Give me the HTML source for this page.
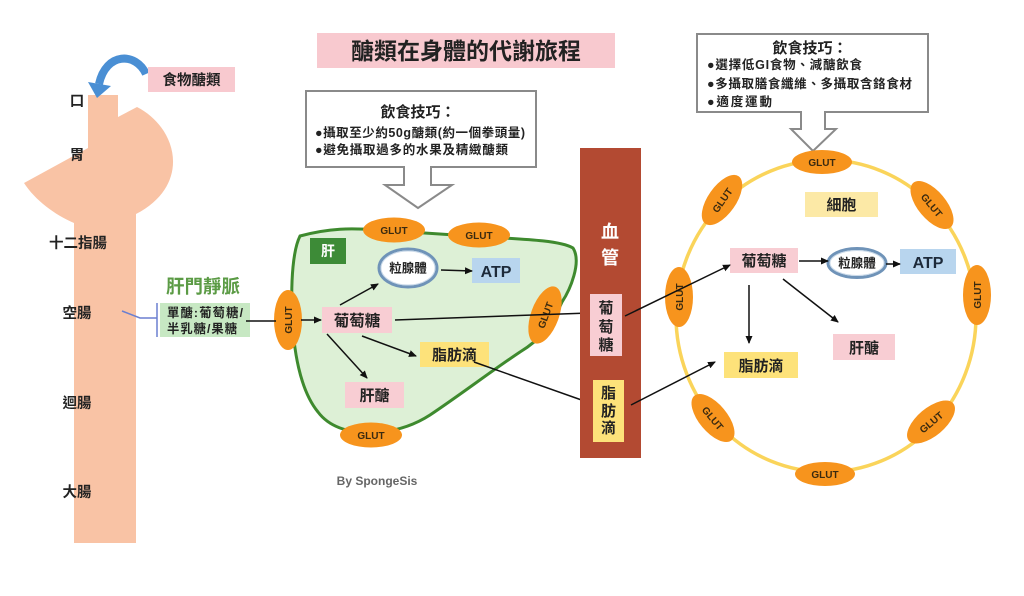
<!DOCTYPE html>
<html><head><meta charset="utf-8">
<style>
html,body{margin:0;padding:0;background:#fff;}
svg{display:block;}
text{font-family:"Liberation Sans","Noto Sans CJK TC",sans-serif;font-weight:bold;}
</style></head>
<body>
<svg width="1024" height="596" viewBox="0 0 1024 596" xmlns="http://www.w3.org/2000/svg">
<defs>
<marker id="ah" markerWidth="8" markerHeight="8" refX="7" refY="4" orient="auto" markerUnits="userSpaceOnUse">
<path d="M0,0.5 L8,4 L0,7.5 Z" fill="#111"/>
</marker>
</defs>
<rect width="1024" height="596" fill="#fff"/>

<!-- GI tract -->
<path d="M88,95 L118,95 L118,117 L137,107 C178,128 192,185 136,214 L136,543 L74,543 L74,223 C55,215 35,200 24,183 L88,148 Z" fill="#f9c3a5"/>
<!-- blue curved arrow -->
<path d="M146,74 C136,52 106,52 99,84" fill="none" stroke="#4a8fd4" stroke-width="8"/>
<path d="M88,82 L111,86 L97,98 Z" fill="#4a8fd4"/>
<rect x="148" y="67" width="87" height="25" fill="#f8c9cf"/>
<text x="191.5" y="85" font-size="14.5" text-anchor="middle" fill="#222">食物醣類</text>

<g font-size="14.5" fill="#222" text-anchor="middle">
<text x="77" y="106">口</text>
<text x="77" y="160">胃</text>
<text x="78" y="248">十二指腸</text>
<text x="77" y="318">空腸</text>
<text x="77" y="408">迴腸</text>
<text x="77" y="497">大腸</text>
</g>

<!-- portal vein -->
<text x="203" y="293" font-size="18.5" text-anchor="middle" fill="#5b9b45">肝門靜脈</text>
<rect x="160" y="303" width="90" height="34" fill="#c7e8c3"/>
<text x="167" y="317" font-size="12.3" fill="#222" textLength="76">單醣:葡萄糖/</text>
<text x="167" y="333" font-size="12.3" fill="#222" textLength="70">半乳糖/果糖</text>
<path d="M122,311 L140,318 L157,318" fill="none" stroke="#6b7fd0" stroke-width="1.5"/>
<line x1="157" y1="303" x2="157" y2="337" stroke="#6b7fd0" stroke-width="1.5"/>

<!-- title -->
<rect x="317" y="33" width="298" height="35" fill="#f8c9cf"/>
<text x="466" y="59" font-size="23" text-anchor="middle" fill="#222">醣類在身體的代謝旅程</text>

<!-- tip box 1 -->
<rect x="306" y="91" width="230" height="76" fill="#fff" stroke="#8a8a8a" stroke-width="2"/>
<path d="M404,166 L404,185 L385,185 L418,208 L452,185 L431,185 L431,166" fill="#fff" stroke="#8a8a8a" stroke-width="2"/>
<text x="418" y="117" font-size="15" text-anchor="middle" fill="#222">飲食技巧：</text>
<text x="315" y="137" font-size="12.5" fill="#222" font-weight="normal" textLength="210">●攝取至少約50g醣類(約一個拳頭量)</text>
<text x="315" y="154" font-size="12.5" fill="#222" font-weight="normal" textLength="193">●避免攝取過多的水果及精緻醣類</text>

<!-- tip box 2 -->
<rect x="697" y="34" width="231" height="78" fill="#fff" stroke="#8a8a8a" stroke-width="2"/>
<path d="M801,111 L801,129 L791,129 L813,151 L836,129 L825,129 L825,111" fill="#fff" stroke="#8a8a8a" stroke-width="2"/>
<text x="810" y="53" font-size="15" text-anchor="middle" fill="#222">飲食技巧：</text>
<text x="707" y="69" font-size="12.5" fill="#222" font-weight="normal" textLength="155">●選擇低GI食物、減醣飲食</text>
<text x="707" y="88" font-size="12.5" fill="#222" font-weight="normal" textLength="205">●多攝取膳食纖維、多攝取含鉻食材</text>
<text x="707" y="106" font-size="12.5" fill="#222" font-weight="normal" textLength="65">●適度運動</text>

<!-- liver -->
<path d="M300,236 C330,228 350,228 380,230 L470,236 C520,239 560,240 573,248 C582,262 570,290 562,302 C552,325 540,340 520,352 C490,372 460,395 430,415 C410,428 390,432 372,433 C350,433 330,428 318,412 C300,390 293,350 292,310 C291,280 293,250 300,236 Z" fill="#ddf0d6" stroke="#3e8a2e" stroke-width="3"/>
<rect x="310" y="238" width="36" height="26" fill="#3d8b37"/>
<text x="328" y="256" font-size="14" text-anchor="middle" fill="#fff">肝</text>

<g fill="#f7941d">
<ellipse cx="394" cy="230" rx="31" ry="12.5"/>
<ellipse cx="479" cy="235" rx="31" ry="12.5"/>
<ellipse cx="288" cy="320" rx="14" ry="30"/>
<ellipse cx="545" cy="315" rx="30" ry="14" transform="rotate(-70 545 315)"/>
<ellipse cx="371" cy="435" rx="31" ry="12.5"/>
</g>
<g font-size="10" fill="#3a2a10" text-anchor="middle">
<text x="394" y="234">GLUT</text>
<text x="479" y="239">GLUT</text>
<text x="288" y="324" transform="rotate(-90 288 320)">GLUT</text>
<text x="545" y="319" transform="rotate(-70 545 315)">GLUT</text>
<text x="371" y="439">GLUT</text>
</g>

<ellipse cx="408" cy="268" rx="29" ry="19" fill="#fff" stroke="#6f93b8" stroke-width="3"/>
<ellipse cx="408" cy="268" rx="27" ry="17" fill="#fff" stroke="#c8d8e8" stroke-width="1"/>
<text x="408" y="272.5" font-size="12.5" text-anchor="middle" fill="#222">粒腺體</text>
<rect x="472" y="258" width="48" height="25" fill="#b8d5ee"/>
<text x="496" y="277" font-size="16" text-anchor="middle" fill="#1d2a3a">ATP</text>
<rect x="322" y="307" width="70" height="26" fill="#f8cdd3"/>
<text x="357" y="326" font-size="15.5" text-anchor="middle" fill="#222">葡萄糖</text>
<rect x="420" y="342" width="69" height="25" fill="#fde27a"/>
<text x="454.5" y="360" font-size="15" text-anchor="middle" fill="#222">脂肪滴</text>
<rect x="345" y="382" width="59" height="26" fill="#f8cdd3"/>
<text x="374.5" y="400.5" font-size="15" text-anchor="middle" fill="#222">肝醣</text>

<g stroke="#111" stroke-width="1.5" fill="none">
<line x1="246" y1="321" x2="276" y2="321"/>
<line x1="301" y1="320" x2="321" y2="320" marker-end="url(#ah)"/>
<line x1="340" y1="305" x2="378" y2="284" marker-end="url(#ah)"/>
<line x1="441" y1="270" x2="472" y2="271" marker-end="url(#ah)"/>
<line x1="395" y1="320" x2="589" y2="313" marker-end="url(#ah)"/>
<line x1="362" y1="336" x2="416" y2="356" marker-end="url(#ah)"/>
<line x1="327" y1="334" x2="367" y2="378" marker-end="url(#ah)"/>
<line x1="474" y1="362" x2="590" y2="403" marker-end="url(#ah)"/>
</g>

<text x="377" y="485" font-size="12" text-anchor="middle" fill="#666">By SpongeSis</text>

<!-- blood vessel -->
<rect x="580" y="148" width="61" height="310" fill="#b34a32"/>
<text x="610" y="238" font-size="18" text-anchor="middle" fill="#fff">血</text>
<text x="610" y="264" font-size="18" text-anchor="middle" fill="#fff">管</text>
<rect x="590" y="294" width="32" height="62" fill="#f8cdd3"/>
<g font-size="15" text-anchor="middle" fill="#222">
<text x="606" y="313">葡</text>
<text x="606" y="332">萄</text>
<text x="606" y="350">糖</text>
</g>
<rect x="593" y="380" width="31" height="62" fill="#fde27a"/>
<g font-size="15" text-anchor="middle" fill="#222">
<text x="608.5" y="398">脂</text>
<text x="608.5" y="416">肪</text>
<text x="608.5" y="433">滴</text>
</g>

<!-- cell -->
<ellipse cx="826" cy="316" rx="150" ry="156" fill="none" stroke="#fad45a" stroke-width="3.5"/>
<g fill="#f7941d">
<ellipse cx="822" cy="162" rx="30" ry="12"/>
<ellipse cx="722" cy="200" rx="29" ry="14" transform="rotate(-55 722 200)"/>
<ellipse cx="932" cy="205" rx="29" ry="14" transform="rotate(50 932 205)"/>
<ellipse cx="679" cy="297" rx="14" ry="30"/>
<ellipse cx="977" cy="295" rx="14" ry="30"/>
<ellipse cx="713" cy="418" rx="29" ry="14" transform="rotate(50 713 418)"/>
<ellipse cx="931" cy="422" rx="29" ry="14" transform="rotate(-40 931 422)"/>
<ellipse cx="825" cy="474" rx="30" ry="12"/>
</g>
<g font-size="10" fill="#3a2a10" text-anchor="middle">
<text x="822" y="166">GLUT</text>
<text x="722" y="204" transform="rotate(-55 722 200)">GLUT</text>
<text x="932" y="209" transform="rotate(50 932 205)">GLUT</text>
<text x="679" y="301" transform="rotate(-90 679 297)">GLUT</text>
<text x="977" y="299" transform="rotate(-90 977 295)">GLUT</text>
<text x="713" y="422" transform="rotate(50 713 418)">GLUT</text>
<text x="931" y="426" transform="rotate(-40 931 422)">GLUT</text>
<text x="825" y="478">GLUT</text>
</g>

<rect x="805" y="192" width="73" height="25" fill="#fce9a6"/>
<text x="841.5" y="210" font-size="15" text-anchor="middle" fill="#222">細胞</text>
<rect x="730" y="248" width="68" height="25" fill="#f8cdd3"/>
<text x="764" y="266" font-size="15" text-anchor="middle" fill="#222">葡萄糖</text>
<ellipse cx="857" cy="263" rx="29" ry="14.5" fill="#fff" stroke="#6f93b8" stroke-width="3"/>
<ellipse cx="857" cy="263" rx="27" ry="12.5" fill="#fff" stroke="#c8d8e8" stroke-width="1"/>
<text x="857" y="267.5" font-size="12.5" text-anchor="middle" fill="#222">粒腺體</text>
<rect x="900" y="249" width="56" height="25" fill="#b8d5ee"/>
<text x="928" y="268" font-size="16" text-anchor="middle" fill="#1d2a3a">ATP</text>
<rect x="833" y="334" width="62" height="26" fill="#f8cdd3"/>
<text x="864" y="353" font-size="15" text-anchor="middle" fill="#222">肝醣</text>
<rect x="724" y="352" width="74" height="26" fill="#fde27a"/>
<text x="761" y="371" font-size="15" text-anchor="middle" fill="#222">脂肪滴</text>

<g stroke="#111" stroke-width="1.5" fill="none">
<line x1="799" y1="261" x2="828" y2="261" marker-end="url(#ah)"/>
<line x1="886" y1="264" x2="900" y2="264" marker-end="url(#ah)"/>
<line x1="783" y1="279" x2="838" y2="322" marker-end="url(#ah)"/>
<line x1="749" y1="285" x2="749" y2="343" marker-end="url(#ah)"/>
<line x1="625" y1="316" x2="730" y2="265" marker-end="url(#ah)"/>
<line x1="631" y1="405" x2="715" y2="362" marker-end="url(#ah)"/>
</g>
</svg>
</body></html>
